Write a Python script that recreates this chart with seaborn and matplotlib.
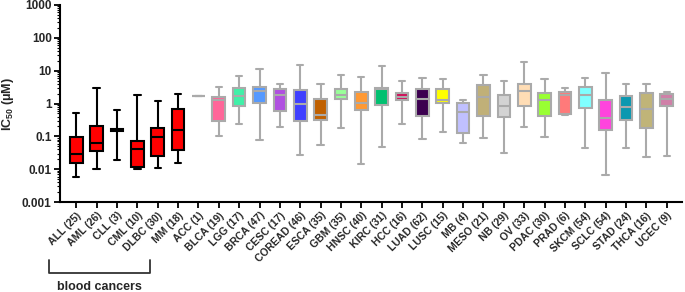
import pandas as pd
import matplotlib.pyplot as plt
import seaborn as sns

sns.set_theme(style="white")
plt.rcParams.update({
    'font.family': ['Liberation Sans', 'DejaVu Sans'],
    'font.weight': 'bold',
    'mathtext.fontset': 'custom',
    'mathtext.rm': 'Liberation Sans:bold',
    'mathtext.default': 'rm',
    'figure.facecolor': 'white',
    'axes.facecolor': 'white',
})

# категории и размеры выборок
cancers = ['ALL', 'AML', 'CLL', 'CML', 'DLBC', 'MM', 'ACC', 'BLCA', 'LGG', 'BRCA',
           'CESC', 'COREAD', 'ESCA', 'GBM', 'HNSC', 'KIRC', 'HCC', 'LUAD', 'LUSC', 'MB',
           'MESO', 'NB', 'OV', 'PDAC', 'PRAD', 'SKCM', 'SCLC', 'STAD', 'THCA', 'UCEC']
counts = [25, 26, 3, 10, 30, 18, 1, 19, 17, 47,
          17, 46, 35, 35, 40, 31, 16, 62, 15, 4,
          21, 29, 33, 30, 6, 54, 54, 24, 16, 9]
blood = ['ALL', 'AML', 'CLL', 'CML', 'DLBC', 'MM']

# IC50 (мкМ): нижний ус, Q1, медиана, Q3, верхний ус
w_low = [0.006, 0.0102, 0.019, 0.0102, 0.0107, 0.015, 1.75, 0.10, 0.246, 0.080,
         0.19, 0.027, 0.054, 0.18, 0.014, 0.047, 0.23, 0.086, 0.14, 0.063,
         0.090, 0.031, 0.195, 0.094, 0.44, 0.045, 0.0065, 0.044, 0.024, 0.026]
q1 = [0.015, 0.035, 0.15, 0.0115, 0.026, 0.038, 1.75, 0.29, 0.83, 1.05,
      0.60, 0.29, 0.31, 1.36, 0.63, 0.89, 1.29, 0.43, 1.02, 0.125,
      0.41, 0.39, 0.83, 0.43, 0.48, 0.72, 0.154, 0.31, 0.18, 0.83]
med = [0.030, 0.061, 0.16, 0.040, 0.094, 0.154, 1.75, 1.32, 1.75, 2.38,
       1.84, 1.0, 0.45, 1.88, 1.05, 2.8, 1.63, 1.39, 1.26, 0.54,
       1.63, 0.85, 2.43, 1.32, 1.84, 1.88, 0.37, 0.79, 0.66, 1.42]
q3 = [0.097, 0.21, 0.17, 0.073, 0.185, 0.70, 1.75, 1.63, 2.9, 3.2,
      2.86, 2.67, 1.36, 2.86, 2.27, 3.07, 2.07, 2.8, 2.73, 1.07,
      3.7, 1.88, 4.06, 2.11, 2.32, 3.15, 1.29, 1.75, 2.11, 1.97]
w_high = [0.50, 2.9, 0.65, 1.8, 1.18, 1.9, 1.75, 3.2, 6.9, 11.6,
          4.06, 14.7, 3.9, 7.6, 6.6, 13.7, 5.0, 5.9, 5.4, 1.29,
          7.6, 5.0, 19.0, 5.4, 2.93, 5.8, 8.2, 3.9, 4.0, 2.32]
colors = ['#FF0000'] * 6 + [
    '#AAAAAA', '#FF6699', '#40F0A8', '#5599FF', '#B050E0', '#3F3FFF', '#C06000',
    '#99FF99', '#FF9933', '#00C070', '#D0105A', '#3C0050', '#FFFF00', '#C0C0FF',
    '#C0B078', '#D3D3D3', '#FFDDB5', '#99FF33', '#FF7A7A', '#80FFFF', '#FF44DD',
    '#0B98B0', '#C0B478', '#D080A8']

labels = [f"{c} ({n})" for c, n in zip(cancers, counts)]
rows = []
for i, c in enumerate(cancers):
    for v in (w_low[i], q1[i], med[i], q3[i], w_high[i]):
        rows.append({'type': labels[i], 'ic50': v, 'blood': c in blood})
df = pd.DataFrame(rows)
palette = dict(zip(labels, colors))

fig = plt.figure(figsize=(6.85, 2.92), dpi=100)
ax = fig.add_axes([0.0876, 0.308, 0.908, 0.675])

for is_blood, lc in [(True, 'black'), (False, '#AAAAAA')]:
    sub = df[df['blood'] == is_blood]
    sns.boxplot(data=sub, x='type', y='ic50', hue='type', order=labels,
                palette=palette, saturation=1, linecolor=lc, linewidth=1.5,
                width=0.62, whis=(0, 100), log_scale=True, legend=False, ax=ax)

ax.set_ylim(0.001, 1000)
ax.set_xlim(-0.8, 29.75)
ax.set_yticks([0.001, 0.01, 0.1, 1, 10, 100, 1000])
ax.set_yticklabels(['0.001', '0.01', '0.1', '1', '10', '100', '1000'],
                   fontsize=8.5, fontweight='bold')
ax.set_ylabel('IC$_{50}$ (μM)', fontsize=9, fontweight='bold')
ax.yaxis.set_label_coords(-0.07, 0.5)
ax.set_xlabel('')
ax.set_xticks(range(len(labels)))
ax.set_xticklabels(labels, rotation=45, ha='right', rotation_mode='anchor',
                   fontsize=7.5, fontweight='bold')
ax.tick_params(axis='both', which='major', direction='out', length=4, width=1.3,
               color='black', left=True, bottom=True, pad=2)
ax.tick_params(axis='y', which='minor', direction='out', length=2, width=0.8,
               color='black', left=True)
for s in ['top', 'right']:
    ax.spines[s].set_visible(False)
for s in ['left', 'bottom']:
    ax.spines[s].set_color('black')
    ax.spines[s].set_linewidth(1.5)

# скобка "blood cancers"
tr = ax.get_xaxis_transform()
ax.plot([-1.32, -1.32, 3.63, 3.63], [-0.294, -0.36, -0.36, -0.294],
        color='#333333', lw=1.3, transform=tr, clip_on=False)
ax.text(1.15, -0.43, 'blood cancers', transform=tr, ha='center', va='center',
        fontsize=9, fontweight='bold')

plt.savefig("out.png", dpi=100)
